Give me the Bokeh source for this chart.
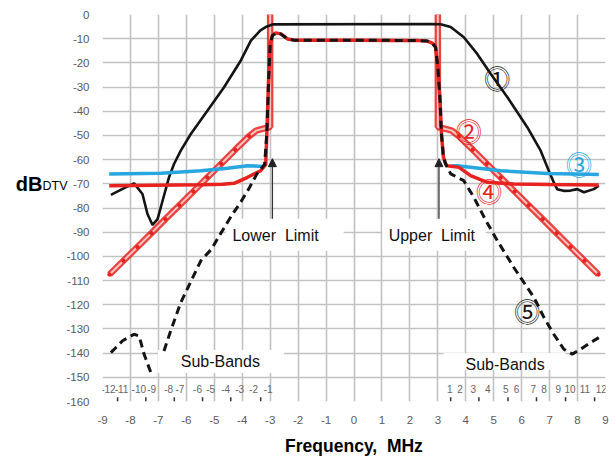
from bokeh.plotting import figure
from bokeh.models import (FixedTicker, Label, BoxAnnotation, Arrow, LinearAxis,
                          NormalHead, Range1d)
from bokeh.embed import file_html
from bokeh.resources import INLINE

nan = float("nan")

# ---------------- data ----------------
freq_ticks = [-9, -8, -7, -6, -5, -4, -3, -2, -1, 0, 1, 2, 3, 4, 5, 6, 7, 8, 9]
db_ticks = [0, -10, -20, -30, -40, -50, -60, -70, -80, -90, -100, -110, -120,
            -130, -140, -150, -160]

# (1) black solid
c1_f = [-8.70, -8.28, -7.87, -7.57, -7.39, -7.21, -7.03, -6.85, -6.62, -6.44,
        -6.20, -5.84, -5.24, -4.65, -4.05, -3.69, -3.35, -3.16, -2.92,
        2.74, 3.10, 3.46, 3.93, 4.41, 4.89, 5.49, 6.20, 6.68, 6.97, 7.15,
        7.27, 7.50, 7.75, 7.99, 8.23, 8.58, 8.76]
c1_db = [-74.6, -72.1, -69.8, -74.2, -82.5, -87.0, -84.6, -77.0, -67.3, -61.8,
         -56.3, -49.4, -39.7, -30.1, -19.0, -10.8, -6.6, -5.2, -4.1,
         -3.9, -4.0, -5.2, -9.4, -16.3, -24.5, -34.2, -46.6, -56.3, -64.6, -69.4,
         -72.2, -72.9, -72.8, -72.2, -73.5, -72.2, -70.8]

# (2) emission mask (double red line)
mask_f = [-8.75, -8.25, -7.75, -7.25, -6.75, -6.25, -5.75, -5.25, -4.75, -4.25,
          -3.75, -3.5, -3.28, -3.0, -3.0, nan,
          3.0, 3.0, 3.28, 3.5, 3.75, 4.25, 4.75, 5.25, 5.75, 6.25, 6.75, 7.25,
          7.75, 8.25, 8.75]
mask_db = [-107.5, -101.8, -96.1, -90.4, -84.6, -78.9, -73.2, -67.4, -61.7, -55.9,
           -50.3, -48.0, -47.3, -46.5, 3, nan,
           3, -46.5, -47.3, -48.0, -50.3, -55.9, -61.7, -67.4, -73.2, -78.9, -84.6,
           -90.4, -96.1, -101.8, -107.5]

# (3) blue
c3_f = [-8.76, -6.91, -5.48, -4.53, -3.81, -3.22, nan, 3.45, 3.70, 5.25, 6.92, 8.76]
c3_db = [-65.9, -65.6, -64.6, -63.6, -62.5, -62.8, nan, -62.6, -62.5, -64.6, -65.7, -66.2]

# passband (shared by curves 4 and 5)
pass_f = [-3.12, -3.06, -3.00, -2.92, -2.80, -2.62, -2.38, -2.15, -1.5, 0.0,
          1.5, 2.3, 2.62, 2.80, 2.92, 3.00, 3.08, 3.13, 3.20]
pass_db = [-49.4, -28.7, -12.1, -8.7, -7.6, -8.0, -10.1, -10.6, -10.6, -10.6,
           -10.7, -10.8, -11.0, -11.8, -13.5, -21.8, -35.6, -49.4, -59.0]

# (4) red solid skirts
c4_left_f = [-8.76, -5.48, -4.70, -4.29, -3.81, -3.34, -3.16]
c4_left_db = [-70.8, -70.4, -70.2, -69.8, -67.3, -64.6, -62.1]
c4_right_f = [3.28, 3.34, 3.76, 4.17, 4.77, 5.72, 7.00, 8.76]
c4_right_db = [-61.8, -62.5, -63.2, -66.6, -69.4, -70.1, -70.3, -70.5]

# (5) black dashed skirts
c5_left_f = [-8.70, -8.28, -7.87, -7.69, -7.51, -7.27, nan, -6.80, -6.56, -6.20,
             -5.48, -5.10, -4.77, -4.40, -4.05, -3.76, -3.48, -3.20]
c5_left_db = [-139.8, -134.9, -132.2, -132.9, -140.5, -148.0, nan, -139.1, -130.8,
              -119.1, -101.8, -97.0, -90.5, -83.5, -77.5, -72.0, -66.0, -62.0]
c5_right_f = [3.28, 3.46, 3.93, 4.29, 4.71, 5.13, 5.72, 6.44, 6.80, 7.15, 7.51,
              7.81, 8.11, 8.47, 8.76]
c5_right_db = [-61.8, -65.9, -68.7, -75.6, -85.0, -93.5, -104.6, -117.0, -125.3,
               -132.2, -138.4, -140.4, -138.4, -135.6, -133.6]

# sub-band scale
sub_low_labels = ["-12", "-11", "-10", "-9", "-8", "-7", "-6", "-5", "-4", "-3", "-2", "-1"]
sub_low_pos = [-8.79, -8.32, -7.70, -7.24, -6.63, -6.23, -5.60, -5.13, -4.59, -4.09, -3.59, -3.07]
sub_up_labels = ["1", "2", "3", "4", "5", "6", "7", "8", "9", "10", "11", "12"]
sub_up_pos = [3.43, 3.79, 4.27, 4.79, 5.43, 5.82, 6.42, 6.80, 7.31, 7.73, 8.26, 8.85]
sub_ticks = [-8.46, -7.45, -6.43, -5.42, -4.41, -3.34, 3.46, 4.47, 5.51, 6.53, 7.57, 8.61]

curve_marks = ["\u24f5", "\u24f6", "\u24f7", "\u24f8", "\u24f9"]

# ---------------- styling ----------------
RED = "#e8221f"
BLUE = "#27a6df"
BLACK = "#141414"
FONT = "Liberation Sans"
NB = "\u00a0"

p = figure(width=616, height=459, x_range=Range1d(-9, 9), y_range=Range1d(-160, 0),
           output_backend="svg", toolbar_location=None,
           min_border_left=102, min_border_right=11, min_border_top=14, min_border_bottom=58)
p.outline_line_color = None
p.background_fill_color = "white"
p.border_fill_color = "white"

p.xaxis.ticker = FixedTicker(ticks=freq_ticks)
p.yaxis.ticker = FixedTicker(ticks=db_ticks)
p.xaxis.major_label_overrides = {t: str(t) for t in freq_ticks}
p.yaxis.major_label_overrides = {t: str(t) for t in db_ticks}
for ax in (p.xaxis[0], p.yaxis[0]):
    ax.axis_line_color = None
    ax.major_tick_line_color = None
    ax.minor_tick_line_color = None
    ax.major_tick_out = 0
    ax.minor_tick_out = 0
    ax.major_label_text_font = FONT
    ax.major_label_text_font_size = "11.5px"
    ax.major_label_text_color = "#5a5a5a"
p.xaxis.major_label_standoff = 14
p.yaxis.major_label_standoff = 13
p.xaxis.axis_label = "Frequency," + NB + NB + "MHz"
p.xaxis.axis_label_text_font = FONT
p.xaxis.axis_label_text_font_size = "17.5px"
p.xaxis.axis_label_text_font_style = "bold"
p.xaxis.axis_label_text_color = "black"
p.xaxis.axis_label_standoff = 9
p.grid.grid_line_color = "#c2c2c2"
p.grid.grid_line_width = 1.6

# y title "dB" with subscript "DTV", as two extra label-only axes
for txt, tick, size, style, stand in [("DTV", -71, "12.5px", "normal", -4),
                                      ("dB", -70, "20px", "bold", -3)]:
    ax = LinearAxis(ticker=FixedTicker(ticks=[tick]), major_label_overrides={tick: txt})
    ax.axis_line_color = None
    ax.major_tick_line_color = None
    ax.minor_tick_line_color = None
    ax.major_tick_out = 0
    ax.minor_tick_out = 0
    ax.major_label_standoff = stand
    ax.major_label_text_font = FONT
    ax.major_label_text_font_size = size
    ax.major_label_text_font_style = style
    ax.major_label_text_color = "black"
    p.add_layout(ax, "left")

# white label boxes (hide grid, under curves)
for l, r, t, b in [(-4.59, -0.37, -84.4, -97.7), (1.02, 4.71, -84.4, -97.7),
                   (-7.02, -2.51, -138.7, -148.2), (3.21, 7.57, -139.9, -146.9)]:
    p.add_layout(BoxAnnotation(left=l, right=r, top=t, bottom=b, fill_color="white",
                               fill_alpha=1.0, line_color=None, level="underlay"))

# (2) mask: double red line
p.line(mask_f, mask_db, line_color=RED, line_width=6.5, line_alpha=0.85)
p.line(mask_f, mask_db, line_color="#f7c4c4", line_width=2)
mk_f = [f for f, d in zip(mask_f, mask_db) if f == f and abs(f) > 3.6]
mk_d = [d for f, d in zip(mask_f, mask_db) if f == f and abs(f) > 3.6]
p.scatter(mk_f, mk_d, size=3.5, color=RED)

# (1) black
p.line(c1_f, c1_db, line_color=BLACK, line_width=2.6)

# (3) blue
p.line(c3_f, c3_db, line_color=BLUE, line_width=3.5)

# (4) red solid
c4_f = c4_left_f + pass_f + c4_right_f
c4_db = c4_left_db + pass_db + c4_right_db
p.line(c4_f, c4_db, line_color=RED, line_width=3.5)

# (5) black dashed
c5_f = c5_left_f + pass_f + c5_right_f
c5_db = c5_left_db + pass_db + c5_right_db
p.line(c5_f, c5_db, line_color=BLACK, line_width=3, line_dash="8 5")

# sub-band scale
p.segment(x0=sub_ticks, y0=[-158.2] * len(sub_ticks), x1=sub_ticks,
          y1=[-160] * len(sub_ticks), line_color="#333333", line_width=1.5)
for txt, x in zip(sub_low_labels + sub_up_labels, sub_low_pos + sub_up_pos):
    p.add_layout(Label(x=x, y=-154.8, text=txt, text_align="center",
                       text_baseline="middle", text_font=FONT, text_font_size="10px",
                       text_color="#666666"))

# arrows
for xa in (-2.92, 3.04):
    p.add_layout(Arrow(x_start=xa, y_start=-84.4, x_end=xa, y_end=-59.6,
                       line_color="#333333", line_width=1.3,
                       end=NormalHead(size=8, fill_color="#222222", line_color="#222222")))

# annotation texts
for txt, x, y in [("Lower" + NB + NB + "Limit", -4.35, -91.5),
                  ("Upper" + NB + NB + "Limit", 1.24, -91.5),
                  ("Sub-Bands", -6.20, -143.5), ("Sub-Bands", 3.99, -144.6)]:
    p.add_layout(Label(x=x, y=y, text=txt, text_align="left", text_baseline="middle",
                       text_font=FONT, text_font_size="16px", text_color="#111111"))

for txt, x, y, col in zip(curve_marks, [5.13, 4.11, 8.05, 4.83, 6.20],
                          [-25.9, -48.0, -61.8, -72.8, -122.5],
                          [BLACK, RED, BLUE, RED, BLACK]):
    p.add_layout(Label(x=x, y=y, text=txt, text_align="center", text_baseline="middle",
                       text_font="Noto Sans CJK JP", text_font_size="26px", text_color=col))

open("out.html", "w").write(file_html(p, INLINE))
